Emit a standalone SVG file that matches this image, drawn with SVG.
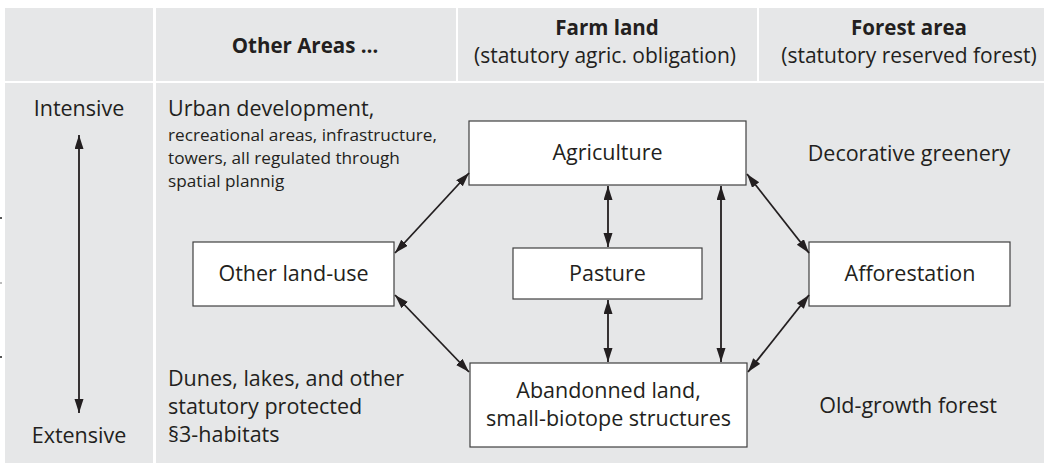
<svg xmlns="http://www.w3.org/2000/svg" width="1044" height="464" viewBox="0 0 1044 464">
<style>
.cell{fill:#e6e7e8}
.box{fill:#ffffff;stroke:#404040;stroke-width:1.2}
.t{font-family:"Open Sans","Liberation Sans",sans-serif;fill:#231f20;font-size:21.5px}
.h{font-size:20.5px}
.hs{font-size:21px}
.b{font-weight:bold}
.m{text-anchor:middle}
.s{font-size:17.2px}
.c{fill:none;stroke:#231f20;stroke-width:1.8;marker-start:url(#ah);marker-end:url(#ah)}
</style>
<defs>
<marker id="ah" markerUnits="userSpaceOnUse" markerWidth="16" markerHeight="10" refX="14" refY="4.5" orient="auto-start-reverse">
<path d="M0,0 L14,4.5 L0,9 Z" fill="#231f20"/>
</marker>
</defs>
<rect width="1044" height="464" fill="#ffffff"/>
<g id="header">
<rect class="cell" x="5" y="8" width="148" height="73"/>
<rect class="cell" x="156" y="8" width="300" height="73"/>
<rect class="cell" x="458" y="8" width="299" height="73"/>
<rect class="cell" x="759" y="8" width="285" height="73"/>
<text class="t h b m" x="305" y="53">Other Areas …</text>
<text class="t h b m" x="607" y="35">Farm land</text>
<text class="t hs m" x="605" y="63">(statutory agric. obligation)</text>
<text class="t h b m" x="909" y="35">Forest area</text>
<text class="t hs m" x="909" y="63">(statutory reserved forest)</text>
</g>
<g id="body">
<rect class="cell" x="5" y="83" width="148" height="380"/>
<rect class="cell" x="156" y="83" width="888" height="380"/>
<rect x="0" y="217" width="2" height="2" fill="#555555"/>
<rect x="0" y="282" width="2" height="2" fill="#bbbbbb"/>
<rect x="0" y="356" width="2" height="2" fill="#555555"/>
</g>
<g id="scale">
<text class="t m" x="79" y="116">Intensive</text>
<text class="t m" x="79" y="443">Extensive</text>
</g>
<g id="urban">
<text class="t" x="168" y="116">Urban development,</text>
<text class="t s" x="168" y="141">recreational areas, infrastructure,</text>
<text class="t s" x="168" y="164">towers, all regulated through</text>
<text class="t s" x="168" y="187">spatial plannig</text>
</g>
<g id="dunes">
<text class="t" x="168" y="386">Dunes, lakes, and other</text>
<text class="t" x="168" y="414">statutory protected</text>
<text class="t" x="168" y="442">§3-habitats</text>
</g>
<g id="decorative">
<text class="t m" x="909" y="161">Decorative greenery</text>
</g>
<g id="oldgrowth">
<text class="t m" x="908" y="413">Old-growth forest</text>
</g>
<g id="other-land-use">
<rect class="box" x="193" y="242" width="201" height="64"/>
<text class="t m" x="293.5" y="281">Other land-use</text>
</g>
<g id="agriculture">
<rect class="box" x="469" y="121" width="277" height="64"/>
<text class="t m" x="607.5" y="160">Agriculture</text>
</g>
<g id="pasture">
<rect class="box" x="513" y="248" width="189" height="51"/>
<text class="t m" x="607.5" y="281">Pasture</text>
</g>
<g id="afforestation">
<rect class="box" x="809" y="242" width="201" height="64"/>
<text class="t m" x="910" y="281">Afforestation</text>
</g>
<g id="abandoned">
<rect class="box" x="470" y="363" width="277" height="84"/>
<text class="t m" x="608.5" y="398">Abandonned land,</text>
<text class="t m" x="608.5" y="426">small-biotope structures</text>
</g>
<g id="connectors">
<line class="c" x1="79" y1="135" x2="79" y2="413"/>
<line class="c" x1="395" y1="253" x2="469" y2="173"/>
<line class="c" x1="395" y1="295" x2="469" y2="372"/>
<line class="c" x1="747" y1="174" x2="809" y2="253"/>
<line class="c" x1="748" y1="372" x2="809" y2="295"/>
<line class="c" x1="608" y1="186" x2="608" y2="247"/>
<line class="c" x1="608" y1="300" x2="608" y2="362"/>
<line class="c" x1="721" y1="186" x2="721" y2="362"/>
</g>
</svg>
